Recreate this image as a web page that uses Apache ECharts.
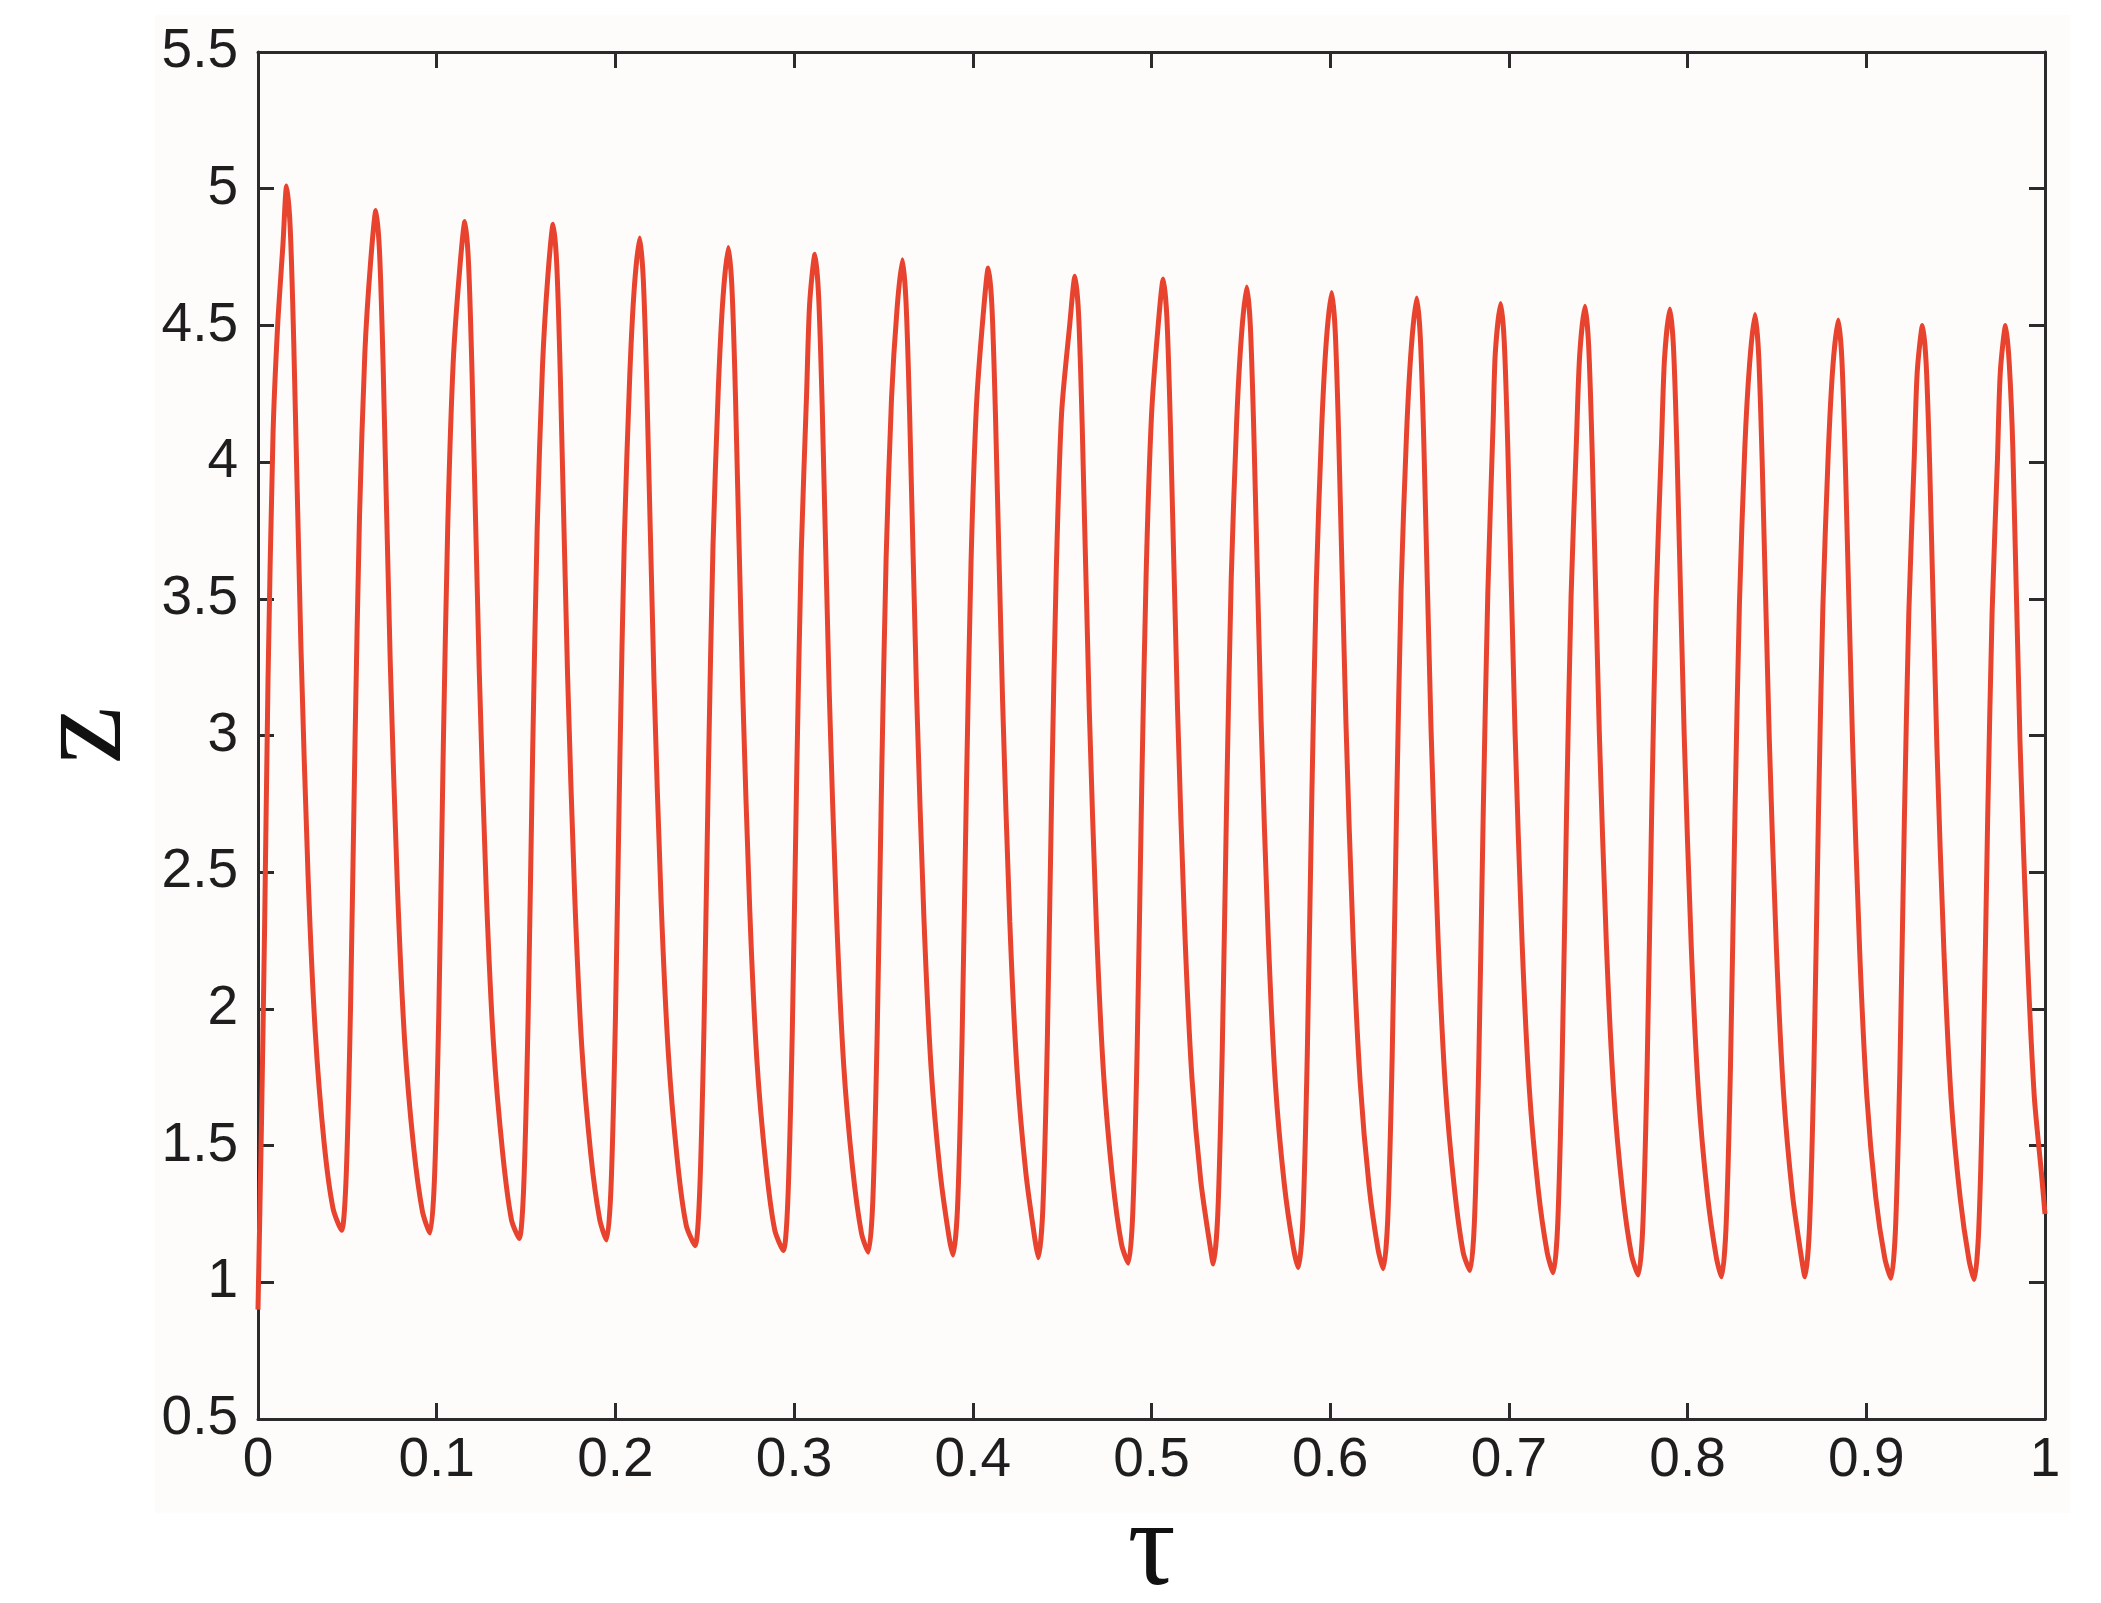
<!DOCTYPE html>
<html>
<head>
<meta charset="utf-8">
<script src="https://cdn.jsdelivr.net/npm/echarts@6/dist/echarts.min.js"></script>
<style>
html,body{margin:0;padding:0;background:#ffffff;}
#chart{width:2101px;height:1603px;}
</style>
</head>
<body>
<div id="chart"></div>
<script>
// Axis ticks
var xTicks = [0, 0.1, 0.2, 0.3, 0.4, 0.5, 0.6, 0.7, 0.8, 0.9, 1];
var yTicks = [0.5, 1, 1.5, 2, 2.5, 3, 3.5, 4, 4.5, 5, 5.5];

// Values: tau (x) and z (y)
var tau = [
0, 0.002, 0.0037, 0.0056, 0.0084, 0.011, 0.014, 0.016,
0.018, 0.020, 0.024, 0.028, 0.032, 0.037, 0.042, 0.0468,
0.0493, 0.0518, 0.0543, 0.0568, 0.0598, 0.0630, 0.0660,
0.068, 0.070, 0.074, 0.078, 0.082, 0.087, 0.092, 0.0962,
0.0987, 0.1012, 0.1037, 0.1062, 0.1092, 0.1128, 0.1158,
0.1178, 0.1198, 0.1238, 0.1278, 0.1318, 0.1368, 0.1418, 0.1462,
0.1487, 0.1512, 0.1537, 0.1562, 0.1592, 0.1622, 0.1652,
0.1672, 0.1692, 0.1732, 0.1772, 0.1812, 0.1862, 0.1912, 0.1950,
0.1975, 0.2000, 0.2025, 0.2050, 0.2080, 0.2106, 0.2136,
0.2156, 0.2176, 0.2216, 0.2256, 0.2296, 0.2346, 0.2396, 0.2446,
0.2471, 0.2496, 0.2521, 0.2546, 0.2576, 0.2602, 0.2632,
0.2652, 0.2672, 0.2712, 0.2752, 0.2792, 0.2842, 0.2892, 0.2940,
0.2965, 0.2990, 0.3015, 0.3040, 0.3070, 0.3087, 0.3117,
0.3137, 0.3157, 0.3197, 0.3237, 0.3277, 0.3327, 0.3377, 0.3415,
0.3440, 0.3465, 0.3490, 0.3515, 0.3545, 0.3576, 0.3606,
0.3626, 0.3646, 0.3686, 0.3726, 0.3766, 0.3816, 0.3866, 0.3890,
0.3915, 0.3940, 0.3965, 0.3990, 0.4020, 0.4057, 0.4087,
0.4107, 0.4127, 0.4167, 0.4207, 0.4247, 0.4297, 0.4347, 0.4367,
0.4392, 0.4417, 0.4442, 0.4467, 0.4497, 0.4542, 0.4572,
0.4592, 0.4612, 0.4652, 0.4692, 0.4732, 0.4782, 0.4832, 0.4870,
0.4895, 0.4920, 0.4945, 0.4970, 0.5000, 0.5036, 0.5066,
0.5086, 0.5106, 0.5146, 0.5186, 0.5226, 0.5276, 0.5326, 0.5346,
0.5371, 0.5396, 0.5421, 0.5446, 0.5476, 0.5503, 0.5533,
0.5553, 0.5573, 0.5613, 0.5653, 0.5693, 0.5743, 0.5793, 0.5822,
0.5847, 0.5872, 0.5897, 0.5922, 0.5952, 0.5978, 0.6008,
0.6028, 0.6048, 0.6088, 0.6128, 0.6168, 0.6218, 0.6268, 0.6297,
0.6322, 0.6347, 0.6372, 0.6397, 0.6427, 0.6454, 0.6484,
0.6504, 0.6524, 0.6564, 0.6604, 0.6644, 0.6694, 0.6744, 0.6782,
0.6807, 0.6832, 0.6857, 0.6882, 0.6912, 0.6924, 0.6954,
0.6974, 0.6994, 0.7034, 0.7074, 0.7114, 0.7164, 0.7214, 0.7248,
0.7273, 0.7298, 0.7323, 0.7348, 0.7378, 0.7396, 0.7426,
0.7446, 0.7466, 0.7506, 0.7546, 0.7586, 0.7636, 0.7686, 0.7724,
0.7749, 0.7774, 0.7799, 0.7824, 0.7854, 0.7871, 0.7901,
0.7921, 0.7941, 0.7981, 0.8021, 0.8061, 0.8111, 0.8161, 0.8190,
0.8215, 0.8240, 0.8265, 0.8290, 0.8320, 0.8347, 0.8377,
0.8397, 0.8417, 0.8457, 0.8497, 0.8537, 0.8587, 0.8637, 0.8657,
0.8682, 0.8707, 0.8732, 0.8757, 0.8787, 0.8813, 0.8843,
0.8863, 0.8883, 0.8923, 0.8963, 0.9003, 0.9053, 0.9103, 0.9138,
0.9163, 0.9188, 0.9213, 0.9238, 0.9268, 0.9285, 0.9315,
0.9335, 0.9355, 0.9395, 0.9435, 0.9475, 0.9525, 0.9575, 0.9604,
0.9629, 0.9654, 0.9679, 0.9704, 0.9734, 0.9750, 0.9780,
0.9800, 0.9820, 0.9860, 0.9900, 0.9940, 0.9980, 1.0
];

var z = [
0.9, 1.6, 2.3, 3.2, 4.1, 4.5, 4.8, 5.01,
4.86, 4.44, 3.33, 2.49, 1.92, 1.51, 1.27, 1.19,
1.38, 2.01, 2.98, 3.80, 4.40, 4.73, 4.92,
4.77, 4.36, 3.27, 2.45, 1.89, 1.50, 1.26, 1.18,
1.37, 1.99, 2.96, 3.77, 4.36, 4.70, 4.88,
4.73, 4.32, 3.24, 2.42, 1.87, 1.48, 1.23, 1.16,
1.35, 1.98, 2.94, 3.75, 4.35, 4.68, 4.87,
4.72, 4.31, 3.23, 2.42, 1.86, 1.47, 1.23, 1.155,
1.34, 1.96, 2.91, 3.72, 4.31, 4.64, 4.82,
4.67, 4.27, 3.20, 2.39, 1.84, 1.45, 1.21, 1.134,
1.32, 1.94, 2.89, 3.69, 4.27, 4.60, 4.785,
4.64, 4.24, 3.17, 2.36, 1.81, 1.43, 1.19, 1.116,
1.30, 1.92, 2.87, 3.67, 4.25, 4.58, 4.76,
4.61, 4.21, 3.15, 2.35, 1.80, 1.42, 1.18, 1.11,
1.29, 1.91, 2.85, 3.65, 4.23, 4.56, 4.74,
4.59, 4.19, 3.14, 2.34, 1.79, 1.41, 1.17, 1.10,
1.28, 1.89, 2.83, 3.63, 4.20, 4.53, 4.71,
4.57, 4.17, 3.12, 2.32, 1.78, 1.40, 1.16, 1.09,
1.27, 1.88, 2.81, 3.60, 4.18, 4.50, 4.68,
4.54, 4.14, 3.09, 2.30, 1.76, 1.38, 1.14, 1.07,
1.25, 1.86, 2.80, 3.59, 4.17, 4.49, 4.67,
4.53, 4.13, 3.09, 2.29, 1.75, 1.37, 1.14, 1.067,
1.25, 1.85, 2.78, 3.57, 4.14, 4.46, 4.64,
4.50, 4.10, 3.06, 2.27, 1.73, 1.36, 1.13, 1.054,
1.23, 1.84, 2.77, 3.55, 4.12, 4.44, 4.62,
4.48, 4.08, 3.05, 2.26, 1.73, 1.35, 1.12, 1.05,
1.23, 1.83, 2.75, 3.54, 4.10, 4.42, 4.60,
4.46, 4.07, 3.03, 2.25, 1.72, 1.35, 1.11, 1.043,
1.22, 1.82, 2.74, 3.52, 4.15, 4.40, 4.58,
4.44, 4.05, 3.02, 2.24, 1.71, 1.34, 1.11, 1.035,
1.21, 1.81, 2.73, 3.51, 4.08, 4.39, 4.57,
4.43, 4.04, 3.01, 2.23, 1.70, 1.33, 1.10, 1.027,
1.20, 1.80, 2.72, 3.50, 4.07, 4.38, 4.56,
4.42, 4.03, 3.00, 2.22, 1.69, 1.32, 1.09, 1.02,
1.20, 1.79, 2.71, 3.48, 4.05, 4.36, 4.54,
4.40, 4.01, 2.99, 2.22, 1.69, 1.32, 1.09, 1.02,
1.20, 1.79, 2.70, 3.47, 4.03, 4.35, 4.52,
4.38, 3.99, 2.98, 2.21, 1.68, 1.31, 1.09, 1.015,
1.19, 1.78, 2.69, 3.45, 4.01, 4.33, 4.50,
4.36, 3.98, 2.96, 2.20, 1.67, 1.31, 1.08, 1.01,
1.19, 1.78, 2.69, 3.45, 4.01, 4.33, 4.50,
4.36, 4.05, 2.98, 2.22, 1.68, 1.40, 1.25
];

var xTitle = 'τ';
var yTitle = 'z';

var seriesData = tau.map(function (t, i) { return [t, z[i]]; });

var axisColor = '#2b2b2b';
var labelFont = { fontFamily: 'Liberation Sans, Arial, sans-serif', fontSize: 55, color: '#1e1e1e' };

function baseAxis(extra) {
  var a = {
    type: 'value',
    axisLine: { show: true, onZero: false, lineStyle: { color: axisColor, width: 3 } },
    axisTick: { show: true, inside: true, length: 16, lineStyle: { color: axisColor, width: 3 } },
    splitLine: { show: false },
    minorTick: { show: false }
  };
  for (var k in extra) a[k] = extra[k];
  return a;
}

var chart = echarts.init(document.getElementById('chart'), null, { renderer: 'canvas' });
chart.setOption({
  backgroundColor: '#ffffff',
  animation: false,
  graphic: [{
    type: 'rect',
    z: -10,
    silent: true,
    shape: { x: 155, y: 15, width: 1915, height: 1498 },
    style: { fill: '#fdfcfa' }
  }],
  grid: { left: 258, right: 56, top: 52, bottom: 184, containLabel: false, outerBoundsMode: 'none' },
  xAxis: [
    baseAxis({
      position: 'bottom',
      min: xTicks[0], max: xTicks[xTicks.length - 1], interval: 0.1,
      axisLabel: Object.assign({ margin: 14 }, labelFont),
      name: xTitle,
      nameLocation: 'middle',
      nameGap: 50,
      nameTextStyle: { fontFamily: 'Liberation Serif, Times New Roman, serif', fontSize: 120, color: '#111' }
    }),
    baseAxis({
      position: 'top',
      min: xTicks[0], max: xTicks[xTicks.length - 1], interval: 0.1,
      axisLabel: { show: false }
    })
  ],
  yAxis: [
    baseAxis({
      position: 'left',
      min: yTicks[0], max: yTicks[yTicks.length - 1], interval: 0.5,
      axisLabel: Object.assign({ margin: 20 }, labelFont),
      name: yTitle,
      nameLocation: 'middle',
      nameRotate: 90,
      nameGap: 107,
      nameTextStyle: { fontFamily: 'Liberation Serif, Times New Roman, serif', fontSize: 130, color: '#111' }
    }),
    baseAxis({
      position: 'right',
      min: yTicks[0], max: yTicks[yTicks.length - 1], interval: 0.5,
      axisLabel: { show: false }
    })
  ],
  series: [{
    type: 'line',
    xAxisIndex: 0,
    yAxisIndex: 0,
    data: seriesData,
    showSymbol: false,
    smooth: 0.25,
    lineStyle: { color: '#e8432e', width: 5 },
    itemStyle: { color: '#e8432e' }
  }]
});
</script>
</body>
</html>
